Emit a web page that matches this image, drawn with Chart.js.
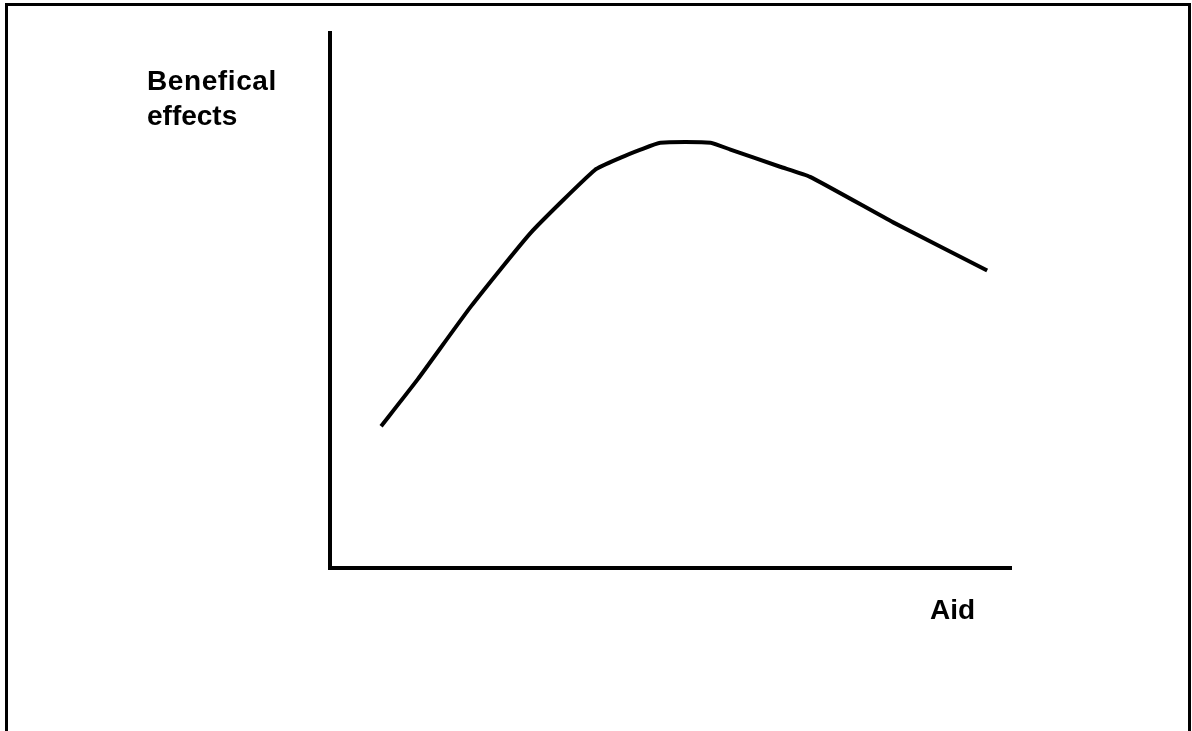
<!DOCTYPE html>
<html>
<head>
<meta charset="utf-8">
<script src="https://cdn.jsdelivr.net/npm/chart.js@4"></script>
<style>
    html, body { margin: 0; padding: 0; background: #fff; overflow: hidden; }
    #wrap { position: relative; width: 1192px; height: 731px; }
    #frame {
        position: absolute; left: 5px; top: 3px; width: 1180px; height: 740px;
        border: 3px solid #000; border-bottom: none;
    }
    canvas { position: absolute; left: 0; top: 0; }
    .lbl {
        position: absolute; font-family: "Liberation Sans", Arial, sans-serif;
        font-weight: bold; font-size: 28px; line-height: 35px; color: #000;
    }
</style>
</head>
<body>
<div id="wrap">
    <div id="frame"></div>
    <canvas id="chart" width="1192" height="731"></canvas>
    <div class="lbl" style="left:147px; top:63px; letter-spacing:0.6px;">Benefical<br><span style="letter-spacing:0">effects</span></div>
    <div class="lbl" style="left:930px; top:592px;">Aid</div>
</div>
<script>
// Aid level (0-100) against beneficial effects (0-100)
const aidLevels = [7.5, 12.9, 20.7, 29.5, 38.9, 42.7, 45.6, 48.5, 55.9, 58.8, 66.1, 70.5, 82.7, 96.5];
const effects = [26.5, 35.3, 48.9, 62.7, 74.4, 76.7, 78.2, 79.5, 79.5, 78.2, 75.0, 73.1, 64.6, 55.6];

const points = aidLevels.map((x, i) => ({x, y: effects[i]}));

new Chart(document.getElementById('chart'), {
    type: 'line',
    data: {
        datasets: [{
            data: points,
            borderColor: '#000',
            borderWidth: 4,
            pointRadius: 0,
            fill: false,
            tension: 0.15
        }]
    },
    options: {
        responsive: false,
        animation: false,
        layout: {padding: {left: 330, top: 33, right: 181, bottom: 163}},
        plugins: {legend: {display: false}, tooltip: {enabled: false}},
        scales: {
            x: {
                type: 'linear', min: 0, max: 100,
                grid: {display: false},
                ticks: {display: false},
                border: {display: true, color: '#000', width: 4},
                afterFit: s => { s.height = 0; }
            },
            y: {
                min: 0, max: 100,
                grid: {display: false},
                ticks: {display: false},
                border: {display: true, color: '#000', width: 4},
                afterFit: s => { s.width = 0; }
            }
        }
    }
});
</script>
</body>
</html>
